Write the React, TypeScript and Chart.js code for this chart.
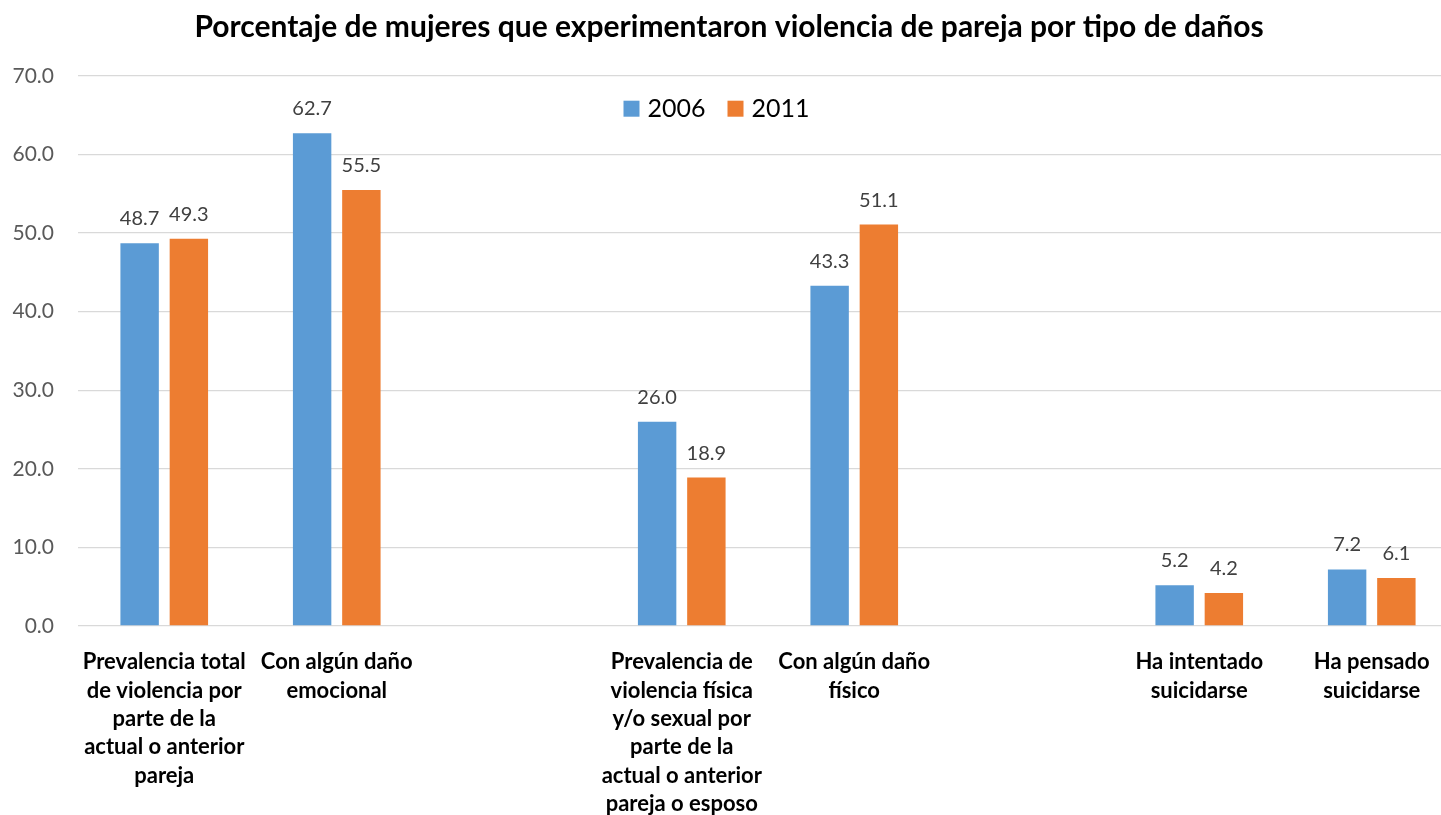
import React, { useEffect, useRef } from "react";
import { Chart, registerables } from "chart.js";

Chart.register(...registerables);

const FONT = "Lato";

const chartTitle =
  "Porcentaje de mujeres que experimentaron violencia de pareja por tipo de daños";

const categories: (string | string[])[] = [
  ["Prevalencia total", "de violencia por", "parte de la", "actual o anterior", "pareja"],
  ["Con algún daño", "emocional"],
  "",
  [
    "Prevalencia de",
    "violencia física",
    "y/o sexual por",
    "parte de la",
    "actual o anterior",
    "pareja o esposo",
  ],
  ["Con algún daño", "físico"],
  "",
  ["Ha intentado", "suicidarse"],
  ["Ha pensado", "suicidarse"],
];

const seriesNames = ["2006", "2011"];
const values2006 = [48.7, 62.7, null, 26.0, 43.3, null, 5.2, 7.2];
const values2011 = [49.3, 55.5, null, 18.9, 51.1, null, 4.2, 6.1];
const seriesColors = ["#5B9BD5", "#ED7D31"];

const yMin = 0;
const yMax = 70;
const yStep = 10;

const CANVAS_W = 1483;
const CANVAS_H = 815;

const dataLabelPlugin = {
  id: "dataLabels",
  afterDatasetsDraw(chart: any) {
    const ctx = chart.ctx;
    ctx.save();
    ctx.font = `20px ${FONT}`;
    ctx.fillStyle = "#404040";
    ctx.textAlign = "center";
    ctx.textBaseline = "alphabetic";
    chart.data.datasets.forEach((ds: any, i: number) => {
      const meta = chart.getDatasetMeta(i);
      meta.data.forEach((bar: any, j: number) => {
        const v = ds.data[j];
        if (v === null || v === undefined) return;
        ctx.fillText(Number(v).toFixed(1), bar.x, bar.y - 18);
      });
    });
    ctx.restore();
  },
};

const customLegendPlugin = {
  id: "customLegend",
  afterDraw(chart: any, _args: any, opts: any) {
    const ctx = chart.ctx;
    ctx.save();
    ctx.font = `25px ${FONT}`;
    const box = 16;
    const gapText = 8;
    const gapItem = 22;
    const items = chart.data.datasets.map((ds: any) => ({
      label: ds.label,
      color: ds.backgroundColor,
      w: ctx.measureText(ds.label).width,
    }));
    const total =
      items.reduce((s: number, it: any) => s + box + gapText + it.w, 0) +
      gapItem * (items.length - 1);
    let x = opts.centerX - total / 2;
    const cy = opts.centerY;
    items.forEach((it: any) => {
      ctx.fillStyle = it.color;
      ctx.fillRect(x, cy - box / 2, box, box);
      x += box + gapText;
      ctx.fillStyle = "#000000";
      ctx.textAlign = "left";
      ctx.textBaseline = "alphabetic";
      ctx.fillText(it.label, x, cy + box / 2);
      x += it.w + gapItem;
    });
    ctx.restore();
  },
};

export default function App() {
  const canvasRef = useRef<HTMLCanvasElement | null>(null);

  useEffect(() => {
    let chart: Chart | null = null;
    let cancelled = false;
    const make = () => {
      if (cancelled || !canvasRef.current) return;
      chart = new Chart(canvasRef.current, {
        type: "bar",
        data: {
          labels: categories,
          datasets: [
            {
              label: seriesNames[0],
              data: values2006,
              backgroundColor: seriesColors[0],
              barPercentage: 0.78,
              categoryPercentage: 0.571,
            },
            {
              label: seriesNames[1],
              data: values2011,
              backgroundColor: seriesColors[1],
              barPercentage: 0.78,
              categoryPercentage: 0.571,
            },
          ],
        },
        options: {
          responsive: false,
          animation: false,
          devicePixelRatio: 1,
          layout: { padding: { left: 0, right: 25, top: 0, bottom: 0 } },
          plugins: {
            legend: { display: false },
            tooltip: { enabled: false },
            title: {
              display: true,
              text: chartTitle,
              color: "#000000",
              font: { family: FONT, size: 30, weight: "bold", lineHeight: 1.2 },
              padding: { top: 9, bottom: 31 },
            },
            customLegend: { centerX: 716.5, centerY: 108.7 },
          } as any,
          scales: {
            x: {
              grid: { display: false },
              border: { display: false },
              ticks: {
                color: "#000000",
                font: { family: FONT, size: 22, weight: "bold", lineHeight: 1.29 },
                padding: 14,
                maxRotation: 0,
                minRotation: 0,
                autoSkip: false,
              },
              afterFit: (s: any) => {
                s.height = 189;
              },
            },
            y: {
              min: yMin,
              max: yMax,
              ticks: {
                stepSize: yStep,
                color: "#595959",
                font: { family: FONT, size: 21 },
                padding: 24,
                callback: (v: any) => Number(v).toFixed(1),
              },
              grid: { color: "#D9D9D9", drawTicks: false, lineWidth: 1.3 },
              border: { display: false },
              afterFit: (s: any) => {
                s.width = 78;
              },
            },
          },
        },
        plugins: [dataLabelPlugin, customLegendPlugin],
      });
    };
    const fontsReady = (document as any).fonts
      ? Promise.all([
          (document as any).fonts.load(`bold 25px ${FONT}`),
          (document as any).fonts.load(`20px ${FONT}`),
        ]).catch(() => null)
      : Promise.resolve(null);
    fontsReady.then(make);
    return () => {
      cancelled = true;
      if (chart) chart.destroy();
    };
  }, []);

  return (
    <div
      style={{
        position: "fixed",
        left: 0,
        top: 0,
        width: 1441,
        height: 815,
        overflow: "hidden",
        background: "#ffffff",
      }}
    >
      <canvas
        ref={canvasRef}
        width={CANVAS_W}
        height={CANVAS_H}
        style={{ display: "block", width: CANVAS_W, height: CANVAS_H }}
      />
    </div>
  );
}
